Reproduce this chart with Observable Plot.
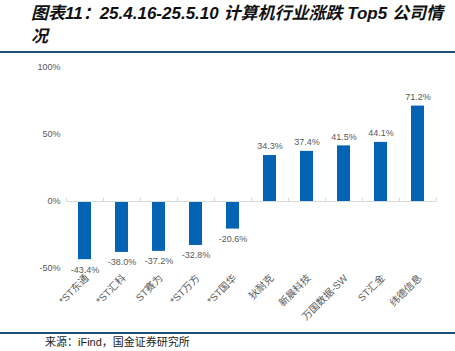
<!DOCTYPE html>
<html>
<head>
<meta charset="utf-8">
<script src="https://cdn.jsdelivr.net/npm/d3@7"></script>
<script src="https://cdn.jsdelivr.net/npm/@observablehq/plot@0.6"></script>
<style>
  html, body { margin: 0; padding: 0; background: #fff; width: 455px; height: 351px; overflow: hidden; position: relative; }
  #title { position: absolute; left: 31px; top: 2px; font-family: "Liberation Sans", Arial, "Noto Sans CJK SC", sans-serif; font-weight: bold; font-style: italic; font-size: 17px; line-height: 23px; color: #111; white-space: nowrap; }
  .rule { position: absolute; left: 0; width: 455px; height: 2px; background: #1d4f72; }
  #chart { position: absolute; left: 0; top: 53px; }
  #source { position: absolute; left: 45px; top: 336px; font-family: "Liberation Sans", "Noto Sans CJK SC", sans-serif; font-size: 11px; line-height: 13px; color: #222; white-space: nowrap; }
</style>
</head>
<body>
<div id="title">图表11：25.4.16-25.5.10 计算机行业涨跌 Top5 公司情<br>况</div>
<div class="rule" style="top:51px"></div>
<div id="chart"></div>
<div class="rule" style="top:332px"></div>
<div id="source">来源：iFind，国金证券研究所</div>
<script>
const companies = ["*ST东通", "*ST汇科", "ST赛为", "*ST万方", "*ST国华", "狄耐克", "新晨科技", "万国数据-SW", "ST汇金", "纬德信息"];
const changes = [-43.4, -38.0, -37.2, -32.8, -20.6, 34.3, 37.4, 41.5, 44.1, 71.2];
const yTicks = [-50, 0, 50, 100];

const data = companies.map((c, i) => ({ company: c, change: changes[i] }));
const font = "'Liberation Sans', Arial, 'Noto Sans CJK SC', sans-serif";
const step = 37;

const chart = Plot.plot({
  width: 455,
  height: 275,
  marginLeft: 66,
  marginRight: 19,
  marginTop: 14,
  marginBottom: 60,
  style: { fontFamily: font, fontSize: "9px", color: "#595959", background: "transparent" },
  x: { domain: companies, paddingInner: 0.65, paddingOuter: 0.325, align: 0.5, label: null },
  y: { domain: [-50, 100], ticks: yTicks, label: null },
  marks: [
    Plot.axisY({ ticks: yTicks, tickSize: 0, tickPadding: 6, tickFormat: d => d + "%", fill: "#595959", fontSize: 9 }),
    Plot.axisX({ anchor: "bottom", tickSize: 0, tickPadding: 8, tickRotate: -45, fill: "#595959", fontSize: 10, dx: 2 }),
    Plot.barY(data, { x: "company", y: "change", fill: "#0563b3" }),
    Plot.ruleY([0], { stroke: "#d9d9d9", strokeWidth: 1 }),
    Plot.ruleX(companies, { x: d => d, y1: 0, y2: 2.5, stroke: "#d9d9d9", dx: -step / 2 }),
    Plot.ruleX([companies[companies.length - 1]], { x: d => d, y1: 0, y2: 2.5, stroke: "#d9d9d9", dx: step / 2 }),
    Plot.text(data.filter(d => d.change >= 0), { x: "company", y: "change", text: d => d.change.toFixed(1) + "%", dy: -9, fill: "#595959", fontSize: 9 }),
    Plot.text(data.filter(d => d.change < 0), { x: "company", y: "change", text: d => d.change.toFixed(1) + "%", dy: 10, fill: "#595959", fontSize: 9 })
  ]
});
document.getElementById("chart").appendChild(chart);
</script>
</body>
</html>
